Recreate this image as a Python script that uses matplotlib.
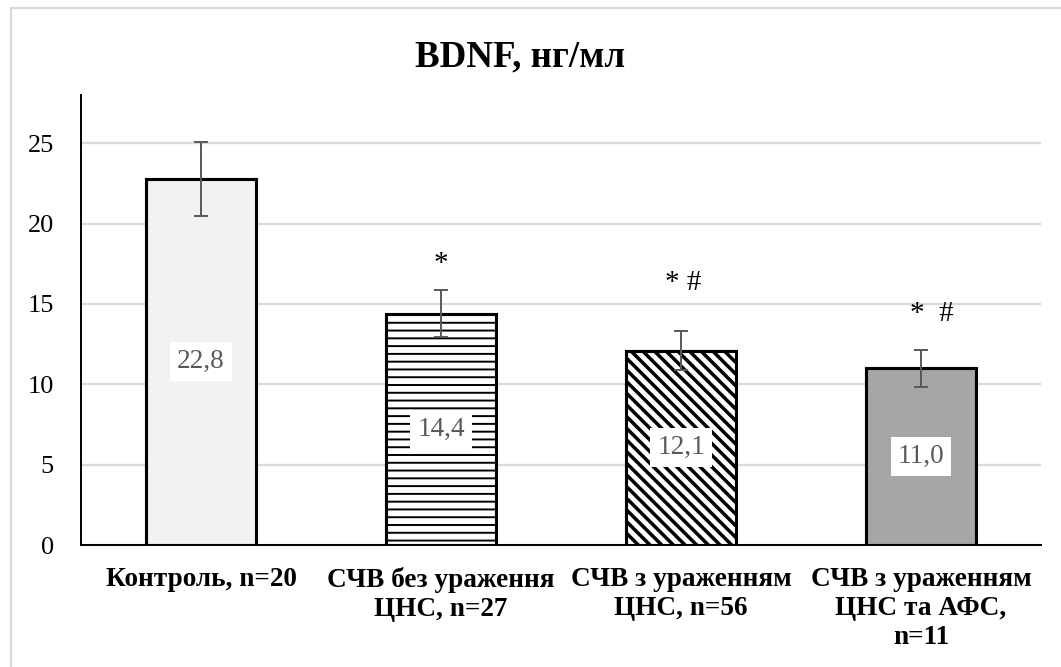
import matplotlib
matplotlib.use("Agg")
import matplotlib.pyplot as plt
from matplotlib.patches import Rectangle
from matplotlib.transforms import ScaledTranslation

# ---- data ----
categories = ["Контроль, n=20", "СЧВ без ураження\nЦНС, n=27",
              "СЧВ з ураженням\nЦНС, n=56", "СЧВ з ураженням\nЦНС та АФС,\nn=11"]
values = [22.8, 14.4, 12.1, 11.0]
errors = [2.3, 1.45, 1.2, 1.15]
value_labels = ["22,8", "14,4", "12,1", "11,0"]
sig_marks = ["", "*", "* #", "*  #"]
sig_y = [None, 17.5, 16.3, 14.4]
title = "BDNF, нг/мл"
yticks = [0, 5, 10, 15, 20, 25]

# ---- style ----
BS = chr(92)
fills = ["#f2f2f2", "white", "white", "#a6a6a6"]
hatches = [None, "---", BS * 4, None]
hatch_lw = [1.0, 1.0, 1.8, 1.0]
sig_dx_pt = [0, 0, 1, 5.5]

DPI = 140
plt.rcParams["font.family"] = ["Liberation Serif", "DejaVu Serif"]
plt.rcParams["hatch.linewidth"] = 1.0

fig = plt.figure(figsize=(1061 / DPI, 667 / DPI), dpi=DPI)
ax = fig.add_axes([81 / 1061, 1 - 545 / 667, (1041 - 81) / 1061, (545 - 95) / 667])

x = list(range(len(categories)))
bars = ax.bar(x, values, width=0.455, color=fills, edgecolor="black",
              linewidth=1.6, zorder=3)
for b, h, hl in zip(bars, hatches, hatch_lw):
    if h:
        b.set_hatch(h)
        if hasattr(b, "set_hatch_linewidth"):
            b.set_hatch_linewidth(hl)

ax.errorbar(x, values, yerr=errors, fmt="none", ecolor="#595959",
            elinewidth=1.0, capsize=3.4, capthick=1.0, zorder=4)

for xi, v, lab in zip(x, values, value_labels):
    ax.text(xi, v / 2, lab, ha="center", va="center", fontsize=14,
            color="#595959", zorder=5,
            bbox=dict(boxstyle="square,pad=0.25", fc="white", ec="none"))

for xi, m, yy, dx in zip(x, sig_marks, sig_y, sig_dx_pt):
    if m:
        tr = ax.transData + ScaledTranslation(dx / 72, 0, fig.dpi_scale_trans)
        ax.text(xi, yy, m, ha="center", va="center", fontsize=15,
                color="black", zorder=5, transform=tr)

ax.set_xlim(-0.5, len(categories) - 0.5)
ax.set_ylim(0, 28)
ax.set_yticks(yticks)
ax.set_xticks(x)
ax.set_xticklabels(categories, fontweight="bold", fontsize=14,
                   linespacing=1.2)
ax.tick_params(axis="y", length=0, pad=14, labelsize=13.5)
ax.tick_params(axis="x", length=0, pad=11.5)
ax.yaxis.grid(True, color="#d9d9d9", linewidth=1.2, zorder=0)
ax.set_axisbelow(True)
for s in ["top", "right"]:
    ax.spines[s].set_visible(False)
for s in ["left", "bottom"]:
    ax.spines[s].set_linewidth(1.0)
    ax.spines[s].set_color("black")

fig.text(520 / 1061, 1 - 57 / 667, title, ha="center", va="center",
         fontsize=19, fontweight="bold")

fig.patches.append(Rectangle((10.5 / 1061, -0.1), 1.2, 1.1 - 7.5 / 667,
                             transform=fig.transFigure, fill=False,
                             edgecolor="#d9d9d9", linewidth=1.2))

fig.savefig("out.png", dpi=DPI)
